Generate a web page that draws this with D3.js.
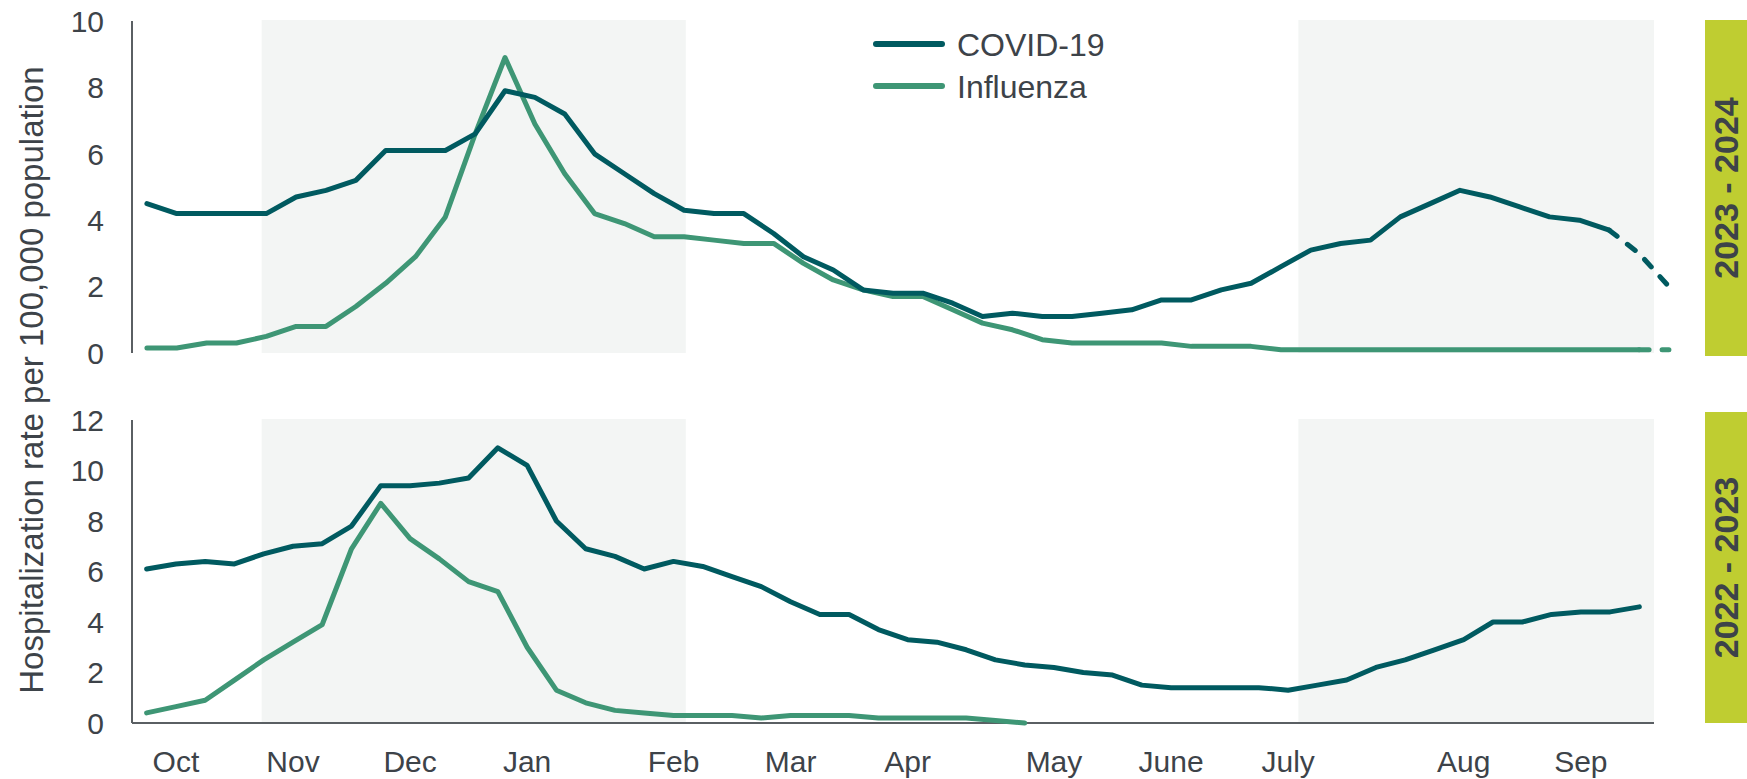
<!DOCTYPE html>
<html>
<head>
<meta charset="utf-8">
<script src="https://cdn.jsdelivr.net/npm/d3@7"></script>
<style>
  html, body { margin: 0; padding: 0; background: #ffffff; }
  svg { display: block; font-family: "Liberation Sans", Arial, sans-serif; }
</style>
</head>
<body>
<svg id="chart"></svg>
<script>
// weekly hospitalization rates per 100,000, week index 0 = first week of October
const months = ['Oct', 'Nov', 'Dec', 'Jan', 'Feb', 'Mar', 'Apr', 'May', 'June', 'July', 'Aug', 'Sep'];
const monthWeeks = [1, 5, 9, 13, 18, 22, 26, 31, 35, 39, 45, 49];

// 2023 - 2024 season (top panel), last weeks are provisional (dashed)
const covid2324 = [4.5, 4.2, 4.2, 4.2, 4.2, 4.7, 4.9, 5.2, 6.1, 6.1, 6.1, 6.6, 7.9, 7.7, 7.2, 6.0,
  5.4, 4.8, 4.3, 4.2, 4.2, 3.6, 2.9, 2.5, 1.9, 1.8, 1.8, 1.5, 1.1, 1.2, 1.1, 1.1, 1.2, 1.3,
  1.6, 1.6, 1.9, 2.1, 2.6, 3.1, 3.3, 3.4, 4.1, 4.5, 4.9, 4.7, 4.4, 4.1, 4.0, 3.7, 3.0, 2.0];
const flu2324 = [0.15, 0.15, 0.3, 0.3, 0.5, 0.8, 0.8, 1.4, 2.1, 2.9, 4.1, 6.6, 8.9, 6.9, 5.4, 4.2,
  3.9, 3.5, 3.5, 3.4, 3.3, 3.3, 2.7, 2.2, 1.9, 1.7, 1.7, 1.3, 0.9, 0.7, 0.4, 0.3, 0.3, 0.3,
  0.3, 0.2, 0.2, 0.2, 0.1, 0.1, 0.1, 0.1, 0.1, 0.1, 0.1, 0.1, 0.1, 0.1, 0.1, 0.1, 0.1, 0.1];
const covidDashFrom = 49;
const fluDashFrom = 50;

// 2022 - 2023 season (bottom panel)
const covid2223 = [6.1, 6.3, 6.4, 6.3, 6.7, 7.0, 7.1, 7.8, 9.4, 9.4, 9.5, 9.7, 10.9, 10.2, 8.0, 6.9,
  6.6, 6.1, 6.4, 6.2, 5.8, 5.4, 4.8, 4.3, 4.3, 3.7, 3.3, 3.2, 2.9, 2.5, 2.3, 2.2, 2.0, 1.9,
  1.5, 1.4, 1.4, 1.4, 1.4, 1.3, 1.5, 1.7, 2.2, 2.5, 2.9, 3.3, 4.0, 4.0, 4.3, 4.4, 4.4, 4.6];
const flu2223 = [0.4, 0.65, 0.9, 1.7, 2.5, 3.2, 3.9, 6.9, 8.7, 7.3, 6.5, 5.6, 5.2, 3.0, 1.3, 0.8,
  0.5, 0.4, 0.3, 0.3, 0.3, 0.2, 0.3, 0.3, 0.3, 0.2, 0.2, 0.2, 0.2, 0.1, 0.0];

// shaded periods (Nov - Jan, July - Sep) in week units
const shadeWeeks = [[3.93, 18.42], [39.35, 51.5]];
const seasons = ['2023 - 2024', '2022 - 2023'];
const seriesNames = ['COVID-19', 'Influenza'];

(function(){
  const width = 1747, height = 779;
  const covidColor = '#005a60', fluColor = '#3e9675', textColor = '#3d4349';

  const svg = d3.select('svg#chart')
      .attr('width', width)
      .attr('height', height);

  let x = d3.scaleLinear().domain([-0.5, 51.5]).range([132, 1654]);
  let xTop = d3.scaleLinear().domain([-0.5, 50.5]).range([132, 1654]);

  let panels = [
    {y: d3.scaleLinear().domain([0, 10]).range([353, 21]), ticks: d3.range(0, 11, 2), x: xTop,
     covid: covid2324, flu: flu2324, season: seasons[0], band: [20, 356], bottomAxis: false},
    {y: d3.scaleLinear().domain([0, 12]).range([723, 420]), ticks: d3.range(0, 13, 2), x: x,
     covid: covid2223, flu: flu2223, season: seasons[1], band: [412, 723], bottomAxis: true}
  ];

  panels.forEach(p => {
    let g = svg.append('g');
    let [y0, y1] = p.y.range();

    g.selectAll('rect.shade')
      .data(shadeWeeks)
      .enter().append('rect')
        .attr('class', 'shade')
        .attr('x', d => x(d[0]))
        .attr('width', d => x(d[1]) - x(d[0]))
        .attr('y', y1 - 1)
        .attr('height', y0 - y1 + 1)
        .attr('fill', '#f3f5f4');

    // y axis: line only, labels right-aligned
    g.append('line')
        .attr('x1', 132).attr('x2', 132)
        .attr('y1', y1).attr('y2', y0)
        .attr('stroke', '#5a5f63').attr('stroke-width', 2);

    g.selectAll('text.tick')
      .data(p.ticks)
      .enter().append('text')
        .attr('class', 'tick')
        .attr('x', 104)
        .attr('y', d => p.y(d))
        .attr('dy', '0.36em')
        .attr('text-anchor', 'end')
        .attr('font-size', 30)
        .attr('fill', textColor)
        .text(d => d);

    if(p.bottomAxis){
      g.append('line')
          .attr('x1', 132).attr('x2', 1654)
          .attr('y1', y0).attr('y2', y0)
          .attr('stroke', '#5a5f63').attr('stroke-width', 2);
    }

    let line = d3.line()
        .x(d => p.x(d[0]))
        .y(d => p.y(d[1]));

    let drawSeries = (values, color, dashFrom) => {
      let pts = values.map((v, i) => [i, v]);
      let solid = dashFrom == null ? pts : pts.slice(0, dashFrom + 1);
      g.append('path')
          .attr('d', line(solid))
          .attr('fill', 'none')
          .attr('stroke', color)
          .attr('stroke-width', 5)
          .attr('stroke-linejoin', 'round')
          .attr('stroke-linecap', 'round');
      if(dashFrom != null){
        g.append('path')
            .attr('d', line(pts.slice(dashFrom)))
            .attr('fill', 'none')
            .attr('stroke', color)
            .attr('stroke-width', 5)
            .attr('stroke-dasharray', '10 13')
            .attr('stroke-linecap', 'round');
      }
    };

    if(p.bottomAxis){
      drawSeries(p.flu, fluColor, null);
      drawSeries(p.covid, covidColor, null);
    } else {
      drawSeries(p.flu, fluColor, fluDashFrom);
      drawSeries(p.covid, covidColor, covidDashFrom);
    }

    // season band on the right
    g.append('rect')
        .attr('x', 1705)
        .attr('y', p.band[0])
        .attr('width', 50)
        .attr('height', p.band[1] - p.band[0])
        .attr('fill', '#bfcd31');

    g.append('text')
        .attr('transform', `translate(1728,${(p.band[0] + p.band[1]) / 2}) rotate(-90)`)
        .attr('text-anchor', 'middle')
        .attr('dy', '0.3em')
        .attr('font-size', 34)
        .attr('font-weight', 'bold')
        .attr('fill', textColor)
        .text(p.season);
  });

  // month labels under the bottom panel
  svg.append('g').selectAll('text')
    .data(months)
    .enter().append('text')
      .attr('x', (d, i) => x(monthWeeks[i]))
      .attr('y', 772)
      .attr('text-anchor', 'middle')
      .attr('font-size', 30)
      .attr('fill', textColor)
      .text(d => d);

  svg.append('text')
      .attr('transform', 'translate(31,380) rotate(-90)')
      .attr('text-anchor', 'middle')
      .attr('dy', '0.36em')
      .attr('font-size', 33)
      .attr('fill', textColor)
      .text('Hospitalization rate per 100,000 population');

  // legend
  let legend = svg.append('g').selectAll('g')
    .data(seriesNames)
    .enter().append('g')
      .attr('transform', (d, i) => `translate(876,${44 + i * 42})`);

  legend.append('line')
      .attr('x1', 0).attr('x2', 66)
      .attr('stroke', (d, i) => i ? fluColor : covidColor)
      .attr('stroke-width', 6)
      .attr('stroke-linecap', 'round');

  legend.append('text')
      .attr('x', 81)
      .attr('dy', '0.36em')
      .attr('font-size', 32)
      .attr('fill', textColor)
      .text(d => d);
})();
</script>
</body>
</html>
